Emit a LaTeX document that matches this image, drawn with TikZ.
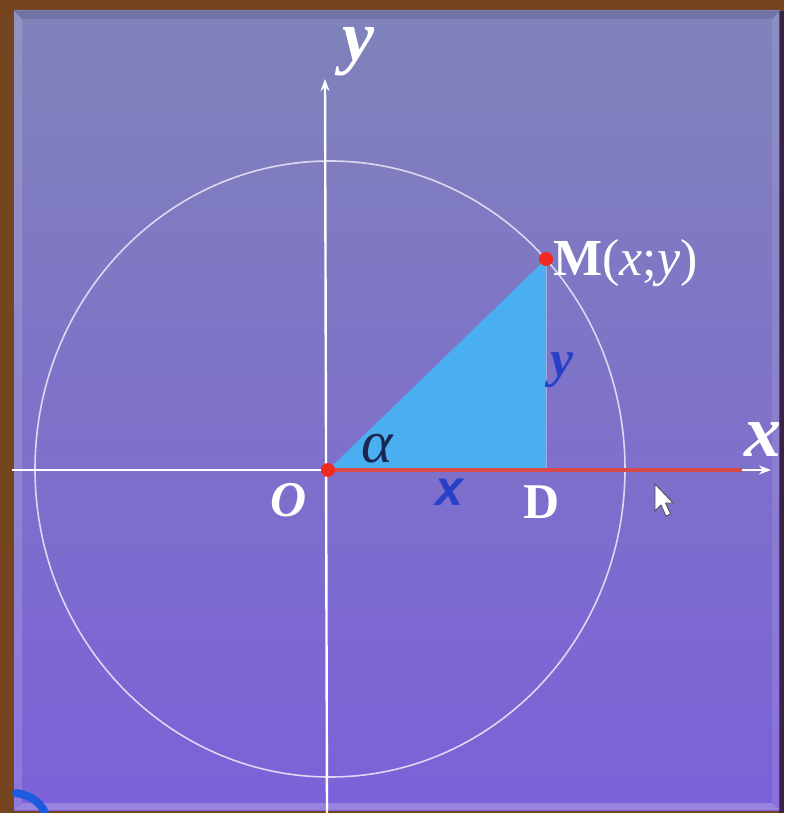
\documentclass[tikz,border=0pt]{standalone}
\usepackage{fontspec}
\setmainfont{Liberation Serif}
\newfontfamily\sansbi{Liberation Sans}
\usetikzlibrary{arrows.meta}
\definecolor{frameBrown}{HTML}{74451F}
\definecolor{panelTop}{HTML}{8083BA}
\definecolor{panelBot}{HTML}{7C61D8}
\definecolor{triBlue}{HTML}{4AAFF0}
\definecolor{lineRed}{HTML}{D84A4A}
\definecolor{dotRed}{HTML}{F02A20}
\definecolor{circCol}{HTML}{DCD8F2}
\definecolor{labBlue}{HTML}{2840C8}
\definecolor{alphaCol}{HTML}{1C2550}
\definecolor{strokeBlue}{HTML}{1E5AE0}
\tikzset{
  axisline/.style={draw=white, line width=2.4pt},
  circline/.style={draw=circCol, line width=1.6pt},
  redline/.style={draw=lineRed, line width=4pt},
  dotstyle/.style={fill=dotRed},
  whitelab/.style={text=white, inner sep=0pt},
  bluelab/.style={text=labBlue, inner sep=0pt},
}
\begin{document}
\begin{tikzpicture}[x=1pt,y=-1pt]
\useasboundingbox (0,0) rectangle (784,813);
% frame and panel
\fill[frameBrown] (0,0) rectangle (784,813);
\shade[top color=panelTop, bottom color=panelBot] (14,11) rectangle (780,810);
% bevels
\fill[white, opacity=0.14] (14,11) -- (22,19) -- (22,802) -- (14,810) -- cycle;
\fill[black, opacity=0.12] (14,11) -- (780,11) -- (772,19) -- (22,19) -- cycle;
\fill[white, opacity=0.10] (780,11) -- (780,810) -- (772,802) -- (772,19) -- cycle;
\fill[white, opacity=0.22] (14,810) -- (780,810) -- (772,803) -- (22,803) -- cycle;
\fill[black!60!blue, opacity=0.5] (779,11) rectangle (784,813);
% key points
\coordinate (O) at (328,470);
\coordinate (M) at (546,259);
\coordinate (D) at (546,470);
\coordinate (C) at (330,469);
\coordinate (xs) at (12,470);
\coordinate (xe) at (771,470);
\coordinate (redEnd) at (742,470);
\coordinate (ys) at (327,813);
\coordinate (ye) at (325,79);
% triangle
\fill[triBlue] (O) -- (M) -- (D) -- cycle;
\draw[white, opacity=0.35, line width=1pt] (M) -- (D);
% circle
\draw[circline] (C) ellipse [x radius=295, y radius=308];
% axes
\draw[axisline, -{Stealth[length=12pt,width=9pt]}] (ys) -- (ye);
\draw[axisline, -{Stealth[length=12pt,width=9pt]}] (xs) -- (xe);
\draw[redline] (O) -- (redEnd);
% dots
\fill[dotstyle] (O) circle (7);
\fill[dotstyle] (M) circle (7);
% labels
\node[whitelab, font=\fontsize{72}{72}\selectfont\bfseries\itshape] (ylab) at (358,52) {y};
\node[whitelab, font=\fontsize{74}{74}\selectfont\bfseries\itshape] (xlab) at (763,440) {x};
\node[whitelab, font=\fontsize{50}{50}\selectfont\bfseries\itshape] (Olab) at (289,500) {O};
\node[whitelab, font=\fontsize{50}{50}\selectfont\bfseries] (Dlab) at (542,502) {D};
\node[whitelab, anchor=west, font=\fontsize{52}{52}\selectfont] (Mlab) at (553,263) {\textbf{M}(\textit{x};\textit{y})};
\node[text=alphaCol, inner sep=0pt, font=\fontsize{60}{60}\selectfont\itshape] (alab) at (377,449) {α};
\node[bluelab, font=\fontsize{50}{50}\selectfont\sansbi\bfseries\itshape] (xblue) at (449,492) {x};
\node[bluelab, font=\fontsize{52}{52}\selectfont\bfseries\itshape] (yblue) at (562,370) {y};
% mouse cursor
\filldraw[fill=white, draw=black!70, line width=0.8pt]
  (655,484) -- (655,511) -- (661,505) -- (666,516) -- (670.5,514) -- (665.5,503) -- (673,503) -- cycle;
% blue stroke at bottom-left
\draw[strokeBlue, line width=8pt, line cap=round] (16,793) .. controls (31,795) and (41,803) .. (45,813);
\end{tikzpicture}
\end{document}
